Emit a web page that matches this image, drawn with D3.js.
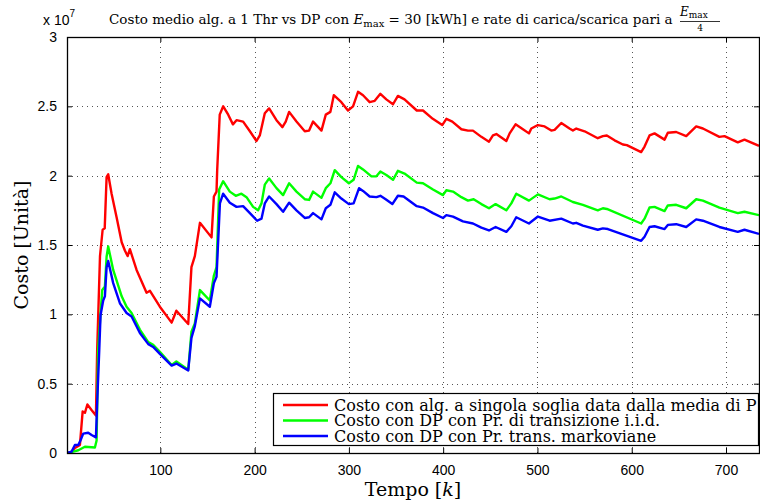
<!DOCTYPE html>
<html lang="it">
<head>
<meta charset="utf-8">
<script src="https://d3js.org/d3.v7.min.js"></script>
<style>
  body { margin: 0; background: #fff; }
  .grid line { stroke: #555; stroke-width: 1; stroke-dasharray: 1,4; }
  .axis text { font-family: "Liberation Sans", Arial, sans-serif; font-size: 14px; fill: #000; }
  .serif { font-family: "DejaVu Serif", "Liberation Serif", serif; fill: #000; }
</style>
</head>
<body>
<script>
// time steps and costs (x 1e7)
var redSeries = [
  [1,0],[6,0.01],[9.4,0.036],[14.7,0.058],[17.6,0.30],[20,0.29],[22.6,0.35],[27,0.31],[31.7,0.27],
  [33,0.74],[36,1.42],[38.8,1.61],[41,1.62],[43,1.99],[44.7,2.01],[48.3,1.87],[53.6,1.70],[59,1.52],
  [62.4,1.46],[65.3,1.42],[67.7,1.47],[74.8,1.32],[85.4,1.156],[89,1.17],[99.5,1.055],[112,0.94],
  [117,1.026],[129.6,0.93],[133,1.34],[136.6,1.42],[142,1.66],[154.3,1.555],[156.8,1.85],[159.6,1.885],
  [160.3,2.04],[163,2.44],[166.7,2.50],[172,2.44],[177,2.37],[180.8,2.40],[187.8,2.39],[195,2.32],
  [202,2.25],[205.5,2.29],[210.8,2.45],[215.4,2.485],[223.2,2.40],[229.5,2.35],[233,2.39],[236.6,2.46],
  [244.4,2.39],[253.2,2.32],[257.8,2.325],[262,2.39],[270.9,2.325],[275.5,2.44],[280.4,2.46],[284,2.58],
  [292,2.53],[299,2.47],[304.4,2.50],[309.7,2.605],[315,2.58],[322,2.53],[327.4,2.54],[333.4,2.59],
  [339.7,2.55],[346.8,2.515],[352,2.575],[359,2.55],[372,2.47],[378.6,2.47],[389,2.41],[399,2.365],
  [403.4,2.41],[409.7,2.39],[419.3,2.335],[426.3,2.325],[431.6,2.325],[440.5,2.28],[448.6,2.245],
  [452.8,2.29],[456.4,2.30],[467,2.25],[470.5,2.305],[476.8,2.37],[484.6,2.335],[491,2.305],[493.5,2.34],
  [500.5,2.365],[507.6,2.355],[514.7,2.325],[518.2,2.33],[525.3,2.38],[534,2.34],[537.6,2.325],
  [541.2,2.34],[550,2.32],[564,2.27],[569.4,2.285],[573.6,2.29],[581.8,2.255],[590.6,2.225],[594.8,2.22],
  [610,2.17],[613.6,2.21],[618.9,2.29],[624.2,2.305],[634.8,2.26],[638.3,2.31],[647.2,2.315],
  [657.8,2.285],[668.4,2.355],[675.5,2.34],[693,2.28],[698.4,2.285],[712.5,2.24],[719.6,2.26],[735,2.215]
];
var greenSeries = [
  [1,0],[7.6,0.01],[13,0.02],[20,0.045],[30.6,0.04],[32.4,0.09],[34,0.74],[36.6,1.01],[38.4,1.175],
  [41.2,1.20],[43,1.415],[44.7,1.49],[50,1.32],[59,1.13],[64.2,1.055],[69.5,1.01],[78.3,0.89],
  [87.2,0.80],[92.4,0.78],[99.5,0.73],[112,0.635],[117,0.66],[129.6,0.60],[133,0.875],[136.6,0.935],
  [142,1.175],[152.5,1.10],[156.8,1.28],[159.6,1.34],[162.4,1.90],[166.6,1.96],[173.7,1.885],[180,1.855],
  [186,1.87],[191.4,1.845],[198.4,1.775],[203.7,1.75],[207.3,1.80],[210.8,1.935],[215.4,1.98],
  [223.2,1.91],[230.2,1.86],[236.6,1.945],[244.4,1.885],[253.2,1.83],[257.8,1.825],[262,1.885],
  [270.9,1.84],[275.5,1.91],[280.4,1.945],[285,2.04],[292,1.99],[300,1.945],[305,1.97],[309.7,2.07],
  [315,2.045],[323.9,1.995],[329.2,1.995],[333.4,2.03],[339.7,2.005],[346.8,1.97],[352,2.035],[359,2.015],
  [372,1.95],[378.6,1.945],[389.2,1.90],[399.8,1.86],[403.4,1.895],[410.4,1.885],[419.3,1.845],
  [426.3,1.82],[432.3,1.83],[440.5,1.795],[448.6,1.765],[455.6,1.795],[467,1.75],[472.3,1.80],
  [477.5,1.87],[491,1.82],[500.5,1.865],[512.9,1.83],[518.2,1.835],[525.3,1.85],[537.6,1.81],
  [548.2,1.79],[564,1.75],[569.4,1.765],[573.6,1.76],[610,1.655],[613.6,1.69],[618.9,1.77],[624.2,1.775],
  [634.8,1.745],[638.3,1.785],[647.2,1.79],[657.8,1.765],[668.4,1.83],[675.5,1.82],[693,1.77],
  [712.5,1.73],[719.6,1.74],[735,1.715]
];
var blueSeries = [
  [1,0],[5.9,0.01],[9.4,0.058],[13,0.058],[15.5,0.094],[18.2,0.14],[23.5,0.146],[27.1,0.13],[31.7,0.113],
  [33,0.36],[35.2,0.74],[36.6,0.995],[39.4,1.10],[41.2,1.13],[43,1.34],[44.7,1.385],[50,1.225],
  [57.1,1.08],[64.2,1.01],[69.5,0.985],[78.3,0.865],[87.2,0.785],[92.4,0.765],[99.5,0.715],[112,0.63],
  [117,0.645],[129.6,0.595],[133,0.83],[136.6,0.915],[142,1.115],[152.5,1.055],[156.8,1.225],
  [159.6,1.27],[163.2,1.80],[166.6,1.87],[173.7,1.805],[180.8,1.775],[187.8,1.78],[195,1.73],
  [202.7,1.675],[207.3,1.69],[210.8,1.80],[215.4,1.85],[223.2,1.795],[230.2,1.74],[236.6,1.805],
  [244.4,1.75],[253.2,1.695],[257.8,1.70],[262,1.73],[270.9,1.685],[275.5,1.765],[280.4,1.79],
  [285,1.88],[292,1.835],[300,1.795],[305,1.80],[310.8,1.91],[315,1.89],[322,1.85],[329.2,1.845],
  [333.4,1.855],[339,1.83],[346.1,1.795],[352,1.855],[358,1.85],[372,1.78],[378.6,1.77],[389.2,1.73],
  [399.8,1.695],[403.4,1.715],[410.4,1.705],[421,1.67],[431.6,1.655],[440.5,1.625],[448.6,1.605],
  [455.6,1.63],[467,1.595],[472.3,1.635],[477.5,1.70],[491,1.655],[500.5,1.705],[512.9,1.675],
  [525.3,1.69],[537.6,1.655],[541.2,1.66],[548.2,1.64],[564,1.61],[569.4,1.62],[574.7,1.615],
  [610,1.53],[613.6,1.56],[618.9,1.63],[624.2,1.635],[634.8,1.615],[638.3,1.645],[647.2,1.65],
  [657.8,1.63],[668.4,1.685],[675.5,1.675],[693,1.63],[712.5,1.595],[719.6,1.61],[735,1.58]
];
var seriesNames = [
  "Costo con alg. a singola soglia data dalla media di P",
  "Costo con DP con Pr. di transizione i.i.d.",
  "Costo con DP con Pr. trans. markoviane"
];
var seriesColors = ["#ff0000", "#00ff00", "#0000ff"];
var xTicks = [100, 200, 300, 400, 500, 600, 700];
var yTicks = [0, 0.5, 1, 1.5, 2, 2.5, 3];

var w = 760, h = 500;
var padL = 67, padR = 759, padT = 37, padB = 453;

var svg = d3.select("body").append("svg")
  .attr("width", w).attr("height", h);

var xScale = d3.scaleLinear().domain([1, 735]).range([padL, padR]);
var yScale = d3.scaleLinear().domain([0, 3]).range([padB, padT]);

// grid
var grid = svg.append("g").attr("class", "grid");
grid.selectAll(".gx").data(xTicks).enter().append("line")
  .attr("x1", function(d) { return Math.round(xScale(d)) + 0.5; })
  .attr("x2", function(d) { return Math.round(xScale(d)) + 0.5; })
  .attr("y1", padT).attr("y2", padB);
grid.selectAll(".gy").data(yTicks.slice(1, -1)).enter().append("line")
  .attr("y1", function(d) { return Math.round(yScale(d)) + 0.5; })
  .attr("y2", function(d) { return Math.round(yScale(d)) + 0.5; })
  .attr("x1", padL).attr("x2", padR);

// lines
svg.append("clipPath").attr("id", "clip").append("rect")
  .attr("x", padL).attr("y", padT).attr("width", padR - padL).attr("height", padB - padT);

var line = d3.line()
  .x(function(d) { return xScale(d[0]); })
  .y(function(d) { return yScale(d[1]); });

[redSeries, greenSeries, blueSeries].forEach(function(s, i) {
  svg.append("path")
    .datum(s)
    .attr("clip-path", "url(#clip)")
    .attr("fill", "none")
    .attr("stroke", seriesColors[i])
    .attr("stroke-width", 2.4)
    .attr("stroke-linejoin", "round")
    .attr("d", line);
});

// axes (MATLAB-style box with inward ticks)
var xAxis = d3.axisBottom(xScale).tickValues(xTicks).tickSizeInner(-5).tickSizeOuter(0).tickPadding(12);
var yAxis = d3.axisLeft(yScale).tickValues(yTicks).tickFormat(d3.format("")).tickSizeInner(-5).tickSizeOuter(0).tickPadding(10);

svg.append("g").attr("class", "axis")
  .attr("transform", "translate(0," + padB + ")").call(xAxis);
svg.append("g").attr("class", "axis")
  .attr("transform", "translate(" + padL + ",0)").call(yAxis);
svg.append("g").attr("class", "axis")
  .attr("transform", "translate(0," + padT + ")")
  .call(d3.axisTop(xScale).tickValues(xTicks).tickSizeInner(-5).tickSizeOuter(0).tickFormat(""));
svg.append("g").attr("class", "axis")
  .attr("transform", "translate(" + padR + ",0)")
  .call(d3.axisRight(yScale).tickValues(yTicks).tickSizeInner(-5).tickSizeOuter(0).tickFormat(""));
svg.selectAll(".axis .domain").remove();
svg.selectAll(".axis line").attr("stroke", "#000");

svg.append("rect")
  .attr("x", padL + 0.5).attr("y", padT + 0.5)
  .attr("width", padR - padL).attr("height", padB - padT)
  .attr("fill", "none").attr("stroke", "#000").attr("stroke-width", 1.3);

// exponent
var expo = svg.append("text")
  .attr("x", 43).attr("y", 25)
  .style("font-family", "Liberation Sans, Arial, sans-serif").style("font-size", "14px");
expo.append("tspan").text("x 10");
expo.append("tspan").attr("dy", -8).style("font-size", "10px").text("7");

// title
var title = svg.append("text").attr("class", "serif")
  .attr("x", 109).attr("y", 24).style("font-size", "13.5px");
title.append("tspan").text("Costo medio alg. a 1 Thr vs DP con ");
title.append("tspan").style("font-style", "italic").text("E");
title.append("tspan").attr("dy", 3).style("font-size", "10px").text("max");
title.append("tspan").attr("dy", -3).text(" = 30 [kWh] e rate di carica/scarica pari a ");
var fx = 680;
var frac = svg.append("text").attr("class", "serif")
  .attr("x", fx).attr("y", 16).style("font-size", "12px");
frac.append("tspan").style("font-style", "italic").text("E");
frac.append("tspan").attr("dy", 2).style("font-size", "9px").text("max");
svg.append("line").attr("x1", fx).attr("x2", fx + 40).attr("y1", 21.5).attr("y2", 21.5)
  .attr("stroke", "#000").attr("stroke-width", 0.8);
svg.append("text").attr("class", "serif")
  .attr("x", fx + 20).attr("y", 31).attr("text-anchor", "middle")
  .style("font-size", "9px").text("4");

// axis labels
var xl = svg.append("text").attr("class", "serif")
  .attr("x", 413).attr("y", 496).attr("text-anchor", "middle").style("font-size", "19px");
xl.append("tspan").text("Tempo [");
xl.append("tspan").style("font-style", "italic").text("k");
xl.append("tspan").text("]");

svg.append("text").attr("class", "serif")
  .attr("transform", "translate(28,245) rotate(-90)")
  .attr("text-anchor", "middle").style("font-size", "19px")
  .text("Costo [Unità]");

// legend
var lg = svg.append("g");
lg.append("rect")
  .attr("x", 273.5).attr("y", 393.5).attr("width", 485).attr("height", 52)
  .attr("fill", "#fff").attr("stroke", "#000").attr("stroke-width", 1.2);
seriesNames.forEach(function(name, i) {
  var yy = 405 + i * 15.5;
  lg.append("line")
    .attr("x1", 283).attr("x2", 328).attr("y1", yy).attr("y2", yy)
    .attr("stroke", seriesColors[i]).attr("stroke-width", 2.4);
  lg.append("text").attr("class", "serif")
    .attr("x", 334).attr("y", yy + 5.5).style("font-size", "16px")
    .text(name);
});
</script>
</body>
</html>
